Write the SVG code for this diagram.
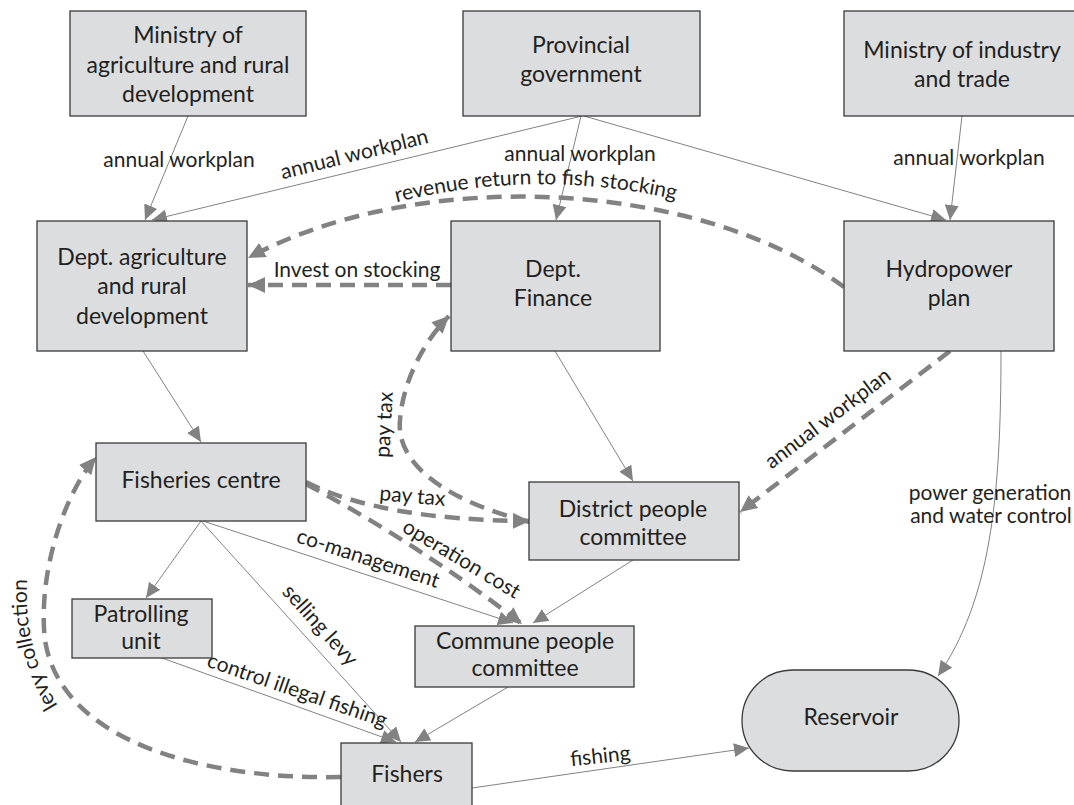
<svg xmlns="http://www.w3.org/2000/svg" width="1074" height="805" viewBox="0 0 1074 805">
<defs>
<style>
.n{fill:#dcdddf;stroke:#3a3a3a;stroke-width:1.3}
.t{font-family:Lato,"Liberation Sans",sans-serif;font-size:23px;fill:#231f20;text-anchor:middle}
.l{font-family:Lato,"Liberation Sans",sans-serif;font-size:21px;fill:#231f20;text-anchor:middle}
.c{fill:none;stroke:#828282;stroke-width:1}
.d{fill:none;stroke:#828282;stroke-width:4.5;stroke-dasharray:15 9}
</style>
<marker id="a" markerUnits="userSpaceOnUse" markerWidth="16" markerHeight="14" refX="15" refY="7" orient="auto"><path d="M0,0 L15,7 L0,14 z" fill="#828282"/></marker>
<marker id="ad" markerUnits="userSpaceOnUse" markerWidth="18" markerHeight="16" refX="17" refY="8" orient="auto"><path d="M0,0 L17,8 L0,16 z" fill="#828282"/></marker>
<path id="revp" d="M390,204 Q535,166 682,201"/>
<path id="levp" d="M64,715 Q20,650 28,568"/>
</defs>

<g id="connectors">
<path class="c" d="M188,116 L145,220" marker-end="url(#a)"/>
<path class="c" d="M582,116 L152,220" marker-end="url(#a)"/>
<path class="c" d="M581,116 L556,220" marker-end="url(#a)"/>
<path class="c" d="M584,116 L946,220" marker-end="url(#a)"/>
<path class="c" d="M962,116 L950,220" marker-end="url(#a)"/>
<path class="d" d="M844,287 C700,180 420,165 248,258" marker-end="url(#ad)"/>
<path class="d" d="M451,285 L248,285" marker-end="url(#ad)"/>
<path class="c" d="M143,351 L201,442" marker-end="url(#a)"/>
<path class="c" d="M555,351 L633,481" marker-end="url(#a)"/>
<path class="d" d="M950,351 L740,512" marker-end="url(#ad)"/>
<path class="c" d="M1001,351 C1001,500 990,600 938,676" marker-end="url(#a)"/>
<path class="d" d="M530,522 C460,505 395,470 400,420 C403,380 425,340 449,316" marker-end="url(#ad)"/>
<path class="d" d="M306,482 Q380,520 530,521" marker-end="url(#ad)"/>
<path class="d" d="M306,484 Q420,545 522,624" marker-end="url(#ad)"/>
<path class="c" d="M203,521 L513,623" marker-end="url(#a)"/>
<path class="c" d="M633,560 L533,623" marker-end="url(#a)"/>
<path class="c" d="M201,521 L146,598" marker-end="url(#a)"/>
<path class="c" d="M201,521 L401,742" marker-end="url(#a)"/>
<path class="c" d="M162,658 L396,742" marker-end="url(#a)"/>
<path class="c" d="M508,687 L415,742" marker-end="url(#a)"/>
<path class="d" d="M341,777 C200,780 60,740 45,640 C38,580 60,500 96,457" marker-end="url(#ad)"/>
<path class="c" d="M472,788 L749,748" marker-end="url(#a)"/>

<text class="l" x="179" y="167">annual workplan</text>
<text class="l" x="356" y="161" transform="rotate(-14 356 161)">annual workplan</text>
<text class="l" x="580" y="161">annual workplan</text>
<text class="l" x="969" y="165">annual workplan</text>
<text class="l"><textPath href="#revp" startOffset="50%">revenue return to fish stocking</textPath></text>
<text class="l" x="357" y="277">Invest on stocking</text>
<text class="l" x="391" y="425" transform="rotate(-87 391 425)">pay tax</text>
<text class="l" x="412" y="503" transform="rotate(5 412 503)">pay tax</text>
<text class="l" x="458" y="565" transform="rotate(31 458 565)">operation cost</text>
<text class="l" x="366" y="565" transform="rotate(18 366 565)">co-management</text>
<text class="l" x="315" y="630" transform="rotate(48 315 630)">selling levy</text>
<text class="l" x="295" y="697" transform="rotate(19 295 697)">control illegal fishing</text>
<text class="l" x="832" y="424" transform="rotate(-37 832 424)">annual workplan</text>
<text class="l" x="990" y="500">power generation</text>
<text class="l" x="991" y="523">and water control</text>
<text class="l"><textPath href="#levp" startOffset="50%">levy collection</textPath></text>
<text class="l" x="601" y="763" transform="rotate(-6 601 763)">fishing</text>
</g>

<g id="ministry-agri"><rect class="n" x="70" y="11" width="236" height="105"/>
<text class="t" x="188" y="43">Ministry of</text><text class="t" x="188" y="73">agriculture and rural</text><text class="t" x="188" y="102">development</text></g>
<g id="provincial-gov"><rect class="n" x="463" y="11" width="237" height="105"/>
<text class="t" x="581" y="53">Provincial</text><text class="t" x="581" y="82">government</text></g>
<g id="ministry-industry"><rect class="n" x="844" y="11" width="240" height="105"/>
<text class="t" x="962" y="58">Ministry of industry</text><text class="t" x="962" y="87">and trade</text></g>
<g id="dept-agri"><rect class="n" x="37" y="221" width="210" height="130"/>
<text class="t" x="142" y="265">Dept. agriculture</text><text class="t" x="142" y="294">and rural</text><text class="t" x="142" y="324">development</text></g>
<g id="dept-finance"><rect class="n" x="451" y="221" width="209" height="130"/>
<text class="t" x="553" y="277">Dept.</text><text class="t" x="553" y="306">Finance</text></g>
<g id="hydropower"><rect class="n" x="844" y="221" width="210" height="130"/>
<text class="t" x="949" y="277">Hydropower</text><text class="t" x="949" y="306">plan</text></g>
<g id="fisheries-centre"><rect class="n" x="96" y="443" width="210" height="78"/>
<text class="t" x="201" y="488">Fisheries centre</text></g>
<g id="district"><rect class="n" x="529" y="482" width="210" height="78"/>
<text class="t" x="633" y="517">District people</text><text class="t" x="633" y="545">committee</text></g>
<g id="commune"><rect class="n" x="415" y="626" width="219" height="61"/>
<text class="t" x="525" y="649">Commune people</text><text class="t" x="525" y="676">committee</text></g>
<g id="patrolling"><rect class="n" x="72" y="599" width="140" height="59"/>
<text class="t" x="141" y="622">Patrolling</text><text class="t" x="141" y="649">unit</text></g>
<g id="fishers"><rect class="n" x="341" y="743" width="131" height="70"/>
<text class="t" x="407" y="782">Fishers</text></g>
<g id="reservoir"><rect class="n" x="742" y="670" width="217" height="101" rx="50.5" ry="50.5"/>
<text class="t" x="851" y="725">Reservoir</text></g>
</svg>
